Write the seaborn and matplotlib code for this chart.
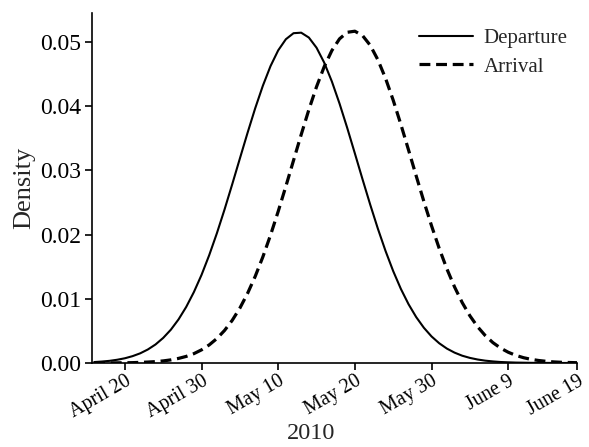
import matplotlib
matplotlib.use("Agg")
import matplotlib.pyplot as plt
import seaborn as sns
import pandas as pd

# day of year 2010 (106 = April 16 ... 169 = June 18)
days = list(range(106, 170))

departure = [
    0.00014, 0.00022, 0.00033, 0.00050, 0.00073, 0.00106, 0.00150, 0.00210,
    0.00288, 0.00390, 0.00518, 0.00678, 0.00872, 0.01103, 0.01371, 0.01678,
    0.02019, 0.02389, 0.02781, 0.03183, 0.03582, 0.03966, 0.04317, 0.04623,
    0.04868, 0.05041, 0.05135, 0.05143, 0.05067, 0.04909, 0.04677, 0.04383,
    0.04039, 0.03661, 0.03263, 0.02860, 0.02466, 0.02091, 0.01744, 0.01430,
    0.01153, 0.00915, 0.00714, 0.00548, 0.00413, 0.00307, 0.00224, 0.00161,
    0.00113, 0.00079, 0.00054, 0.00036, 0.00024, 0.00015, 0.00010, 0.00006,
    0.00004, 0.00002, 0.00001, 0.00001, 0.0, 0.0, 0.0, 0.0,
]

arrival = [
    0.0, 0.00001, 0.00001, 0.00002, 0.00003, 0.00005, 0.00009, 0.00014,
    0.00021, 0.00032, 0.00048, 0.00071, 0.00102, 0.00145, 0.00204, 0.00281,
    0.00380, 0.00506, 0.00663, 0.00854, 0.01082, 0.01348, 0.01652, 0.01991,
    0.02360, 0.02751, 0.03154, 0.03556, 0.03944, 0.04301, 0.04613, 0.04865,
    0.05047, 0.05149, 0.05166, 0.05098, 0.04947, 0.04721, 0.04432, 0.04091,
    0.03714, 0.03316, 0.02912, 0.02515, 0.02136, 0.01784, 0.01465, 0.01184,
    0.00940, 0.00735, 0.00565, 0.00427, 0.00317, 0.00232, 0.00167, 0.00118,
    0.00082, 0.00056, 0.00038, 0.00025, 0.00016, 0.00010, 0.00007, 0.00004,
]

tick_days = [110, 120, 130, 140, 150, 160, 169]
tick_labels = ["April 20", "April 30", "May 10", "May 20", "May 30", "June 9", "June 19"]
y_ticks = [0.00, 0.01, 0.02, 0.03, 0.04, 0.05]

df = pd.concat([
    pd.DataFrame({"day": days, "density": departure, "series": "Departure"}),
    pd.DataFrame({"day": days, "density": arrival, "series": "Arrival"}),
])

sns.set_style("ticks")
plt.rcParams["font.family"] = ["Liberation Serif", "DejaVu Serif"]

fig = plt.figure(figsize=(5.89, 4.47), dpi=100)
ax = fig.add_axes([0.156, 0.188, 0.824, 0.783])

sns.lineplot(
    data=df,
    x="day",
    y="density",
    hue="series",
    style="series",
    palette={"Departure": "black", "Arrival": "black"},
    dashes={"Departure": "", "Arrival": (3.4, 1.8)},
    size="series",
    sizes={"Departure": 1.5, "Arrival": 2.3},
    ax=ax,
)

ax.set_xlim(105.7, 169)
ax.set_ylim(0, 0.0545)
ax.set_xticks(tick_days)
ax.set_xticklabels(tick_labels, rotation=30, ha="right",
                   rotation_mode="anchor", fontsize=14.5)
ax.set_yticks(y_ticks)
ax.set_yticklabels([f"{v:.2f}" for v in y_ticks], fontsize=17)
ax.tick_params(axis="both", direction="out", length=5, width=1.2,
               colors="black", pad=3)
ax.tick_params(axis="x", pad=1.5)
ax.set_xlabel("2010", fontsize=17.5)
ax.xaxis.set_label_coords(0.452, -0.172)
ax.set_ylabel("Density", fontsize=19, labelpad=3)

for side in ["left", "bottom"]:
    ax.spines[side].set_linewidth(1.2)
    ax.spines[side].set_color("black")
sns.despine(ax=ax)

handles, labels = ax.get_legend_handles_labels()
ax.legend(
    handles, labels,
    loc="upper right",
    bbox_to_anchor=(1.019, 1.01),
    frameon=False,
    fontsize=15,
    handlelength=2.6,
    labelspacing=0.45,
    handletextpad=0.5,
)

fig.savefig("out.png", dpi=100)
